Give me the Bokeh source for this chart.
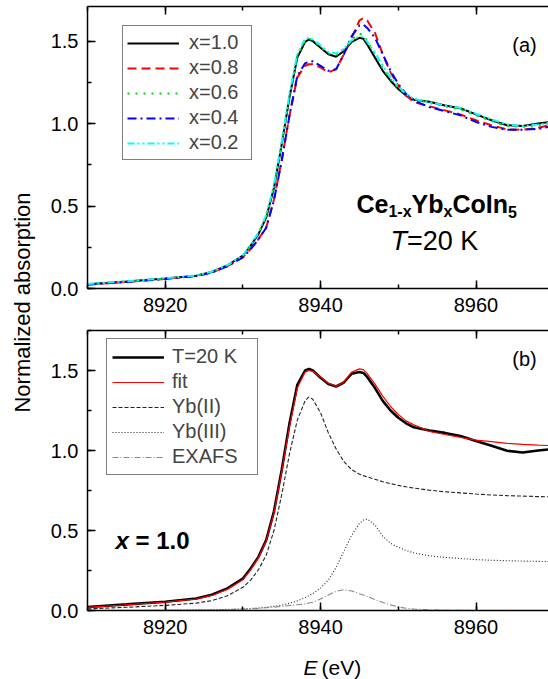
import numpy as np
from bokeh.plotting import figure
from bokeh.layouts import row, column
from bokeh.models import (Range1d, LinearAxis, SingleIntervalTicker, PrintfTickFormatter,
                          Legend, LegendItem, Label)
from bokeh.embed import file_html
from bokeh.resources import INLINE

# ---------------- data ----------------
energy = [8910, 8915, 8920, 8924, 8926, 8928, 8930, 8931, 8932, 8933, 8934, 8935, 8936, 8937,
          8938, 8938.5, 8939, 8940, 8941, 8942, 8943, 8944, 8945, 8945.5, 8946, 8947, 8948,
          8949, 8950, 8951, 8952, 8954, 8956, 8958, 8960, 8962, 8964, 8966, 8968, 8970]

x10 = [0.026, 0.042, 0.060, 0.078, 0.100, 0.140, 0.200, 0.260, 0.330, 0.430, 0.610, 0.875, 1.160, 1.400,
       1.495, 1.510, 1.500, 1.460, 1.420, 1.405, 1.440, 1.495, 1.520, 1.515, 1.480, 1.400, 1.320,
       1.260, 1.210, 1.170, 1.145, 1.133, 1.110, 1.093, 1.056, 1.020, 0.990, 0.986, 1.000, 1.012]
x08 = [0.024, 0.040, 0.058, 0.076, 0.097, 0.135, 0.190, 0.240, 0.300, 0.370, 0.540, 0.780, 1.050, 1.280,
       1.350, 1.360, 1.360, 1.340, 1.310, 1.330, 1.420, 1.520, 1.625, 1.640, 1.625, 1.550, 1.420,
       1.310, 1.230, 1.170, 1.130, 1.105, 1.080, 1.055, 1.020, 0.990, 0.965, 0.962, 0.975, 0.995]
x06 = [0.026, 0.042, 0.060, 0.078, 0.100, 0.140, 0.200, 0.262, 0.335, 0.440, 0.620, 0.885, 1.170, 1.410,
       1.505, 1.515, 1.505, 1.465, 1.425, 1.415, 1.450, 1.510, 1.545, 1.540, 1.500, 1.420, 1.335,
       1.270, 1.215, 1.175, 1.150, 1.125, 1.105, 1.085, 1.050, 1.015, 0.985, 0.980, 0.990, 1.005]
x04 = [0.024, 0.040, 0.058, 0.076, 0.097, 0.135, 0.188, 0.238, 0.298, 0.368, 0.535, 0.775, 1.050, 1.290,
       1.365, 1.375, 1.378, 1.350, 1.320, 1.330, 1.420, 1.530, 1.595, 1.600, 1.580, 1.520, 1.420,
       1.320, 1.240, 1.180, 1.140, 1.100, 1.075, 1.050, 1.010, 0.980, 0.962, 0.962, 0.968, 0.985]
x02 = [0.028, 0.044, 0.062, 0.080, 0.102, 0.142, 0.202, 0.265, 0.340, 0.445, 0.625, 0.890, 1.180, 1.420,
       1.515, 1.520, 1.510, 1.475, 1.435, 1.425, 1.455, 1.505, 1.530, 1.525, 1.495, 1.430, 1.350,
       1.280, 1.225, 1.180, 1.150, 1.130, 1.110, 1.095, 1.060, 1.025, 0.995, 0.985, 0.995, 1.008]

t20k = [0.022, 0.038, 0.055, 0.075, 0.098, 0.138, 0.200, 0.262, 0.335, 0.440, 0.620, 0.880, 1.170, 1.410,
        1.500, 1.510, 1.500, 1.455, 1.415, 1.400, 1.425, 1.480, 1.490, 1.485, 1.460, 1.390, 1.310,
        1.250, 1.205, 1.170, 1.145, 1.125, 1.110, 1.090, 1.060, 1.030, 0.998, 0.988, 1.000, 1.010]
fit = [0.020, 0.036, 0.052, 0.072, 0.094, 0.132, 0.192, 0.255, 0.330, 0.435, 0.610, 0.870, 1.150, 1.390,
       1.490, 1.500, 1.495, 1.460, 1.420, 1.400, 1.430, 1.490, 1.510, 1.505, 1.480, 1.415, 1.340,
       1.275, 1.225, 1.185, 1.160, 1.120, 1.100, 1.082, 1.065, 1.055, 1.045, 1.038, 1.033, 1.030]
yb2 = [0.010, 0.020, 0.032, 0.046, 0.062, 0.092, 0.145, 0.190, 0.255, 0.345, 0.500, 0.725, 0.980, 1.190,
       1.310, 1.335, 1.320, 1.235, 1.110, 1.010, 0.930, 0.880, 0.852, 0.843, 0.835, 0.820, 0.805,
       0.793, 0.782, 0.773, 0.765, 0.752, 0.742, 0.735, 0.728, 0.722, 0.718, 0.715, 0.712, 0.710]
yb3 = [0.000, 0.001, 0.002, 0.004, 0.005, 0.007, 0.010, 0.013, 0.016, 0.020, 0.026, 0.034, 0.045, 0.060,
       0.080, 0.092, 0.105, 0.140, 0.190, 0.270, 0.370, 0.470, 0.545, 0.565, 0.572, 0.535, 0.465,
       0.420, 0.395, 0.375, 0.360, 0.342, 0.332, 0.325, 0.318, 0.314, 0.311, 0.309, 0.307, 0.305]
exafs = [0.000, 0.000, 0.001, 0.002, 0.003, 0.005, 0.008, 0.010, 0.013, 0.017, 0.021, 0.026, 0.031, 0.036,
         0.042, 0.047, 0.052, 0.072, 0.097, 0.120, 0.130, 0.122, 0.105, 0.097, 0.088, 0.068, 0.050,
         0.035, 0.022, 0.014, 0.009, 0.004, 0.002, 0.001, 0.000, 0.000, 0.000, 0.000, 0.000, 0.000]

top_labels = ["x=1.0", "x=0.8", "x=0.6", "x=0.4", "x=0.2"]
bot_labels = ["T=20 K", "fit", "Yb(II)", "Yb(III)", "EXAFS"]

# ---------------- geometry ----------------
FONT = "Liberation Sans"
W_LABEL = 40
W_PLOT = 508
FRAME_L = 87            # page x of the frame's left edge
FRAME_R = 548
PX_PER_EV = 7.77
X0 = 8910.0
X1 = X0 + (FRAME_R - FRAME_L) / PX_PER_EV

TOP_T, TOP_B, TOP_YMAX = 6, 288, 1.71
BOT_T, BOT_B, BOT_YMAX = 330, 610, 1.75
H_TOP = TOP_B + 40                  # 328
H_BOT = 2 + (BOT_B - BOT_T) + 36    # 318
H_XLAB = 679 - H_TOP - H_BOT        # 33


def xd(px):
    return X0 + (px - FRAME_L) / PX_PER_EV


def yt(py):
    return TOP_YMAX * (TOP_B - py) / (TOP_B - TOP_T)


def yb(py):
    return BOT_YMAX * (BOT_B - py) / (BOT_B - BOT_T)


def style_axis(ax, labels=True):
    ax.axis_line_width = 1.5
    ax.axis_line_color = "black"
    ax.major_tick_in = 8
    ax.major_tick_out = 0
    ax.minor_tick_in = 4
    ax.minor_tick_out = 0
    ax.major_tick_line_width = 1.5
    ax.minor_tick_line_width = 1.5
    ax.major_tick_line_color = "black"
    ax.minor_tick_line_color = "black"
    ax.major_label_text_font = FONT
    if labels:
        ax.major_label_text_color = "black"
        ax.major_label_text_font_size = "20px"
    else:
        ax.major_label_text_color = None
        ax.major_label_text_font_size = "0px"
        ax.major_label_standoff = 0


def make_panel(height, ymax, border_top, border_bottom):
    p = figure(width=W_PLOT, height=height, x_range=Range1d(X0, X1), y_range=Range1d(0, ymax),
               toolbar_location=None, output_backend="svg", min_border_left=FRAME_L - W_LABEL,
               min_border_right=0, min_border_top=border_top, min_border_bottom=border_bottom,
               outline_line_color=None)
    p.xgrid.visible = False
    p.ygrid.visible = False
    p.xaxis.ticker = SingleIntervalTicker(interval=20, num_minor_ticks=2)
    p.yaxis.ticker = SingleIntervalTicker(interval=0.5, num_minor_ticks=2)
    p.yaxis.formatter = PrintfTickFormatter(format="%.1f")
    style_axis(p.xaxis[0])
    style_axis(p.yaxis[0])
    p.xaxis.major_label_standoff = 9
    p.yaxis.major_label_standoff = 9
    top = LinearAxis(ticker=SingleIntervalTicker(interval=20, num_minor_ticks=2))
    style_axis(top, labels=False)
    p.add_layout(top, "above")
    return p


def lab(p, x, y, text, size, style="normal", align="left", baseline="alphabetic", angle=0):
    p.add_layout(Label(x=x, y=y, text=text, text_font=FONT, text_font_size=size,
                       text_font_style=style, text_align=align, text_baseline=baseline,
                       text_color="black", angle=angle))


# ---------------- top panel ----------------
p1 = make_panel(H_TOP, TOP_YMAX, TOP_T, H_TOP - TOP_B)
r10 = p1.line(energy, x10, line_color="black", line_width=2)
r08 = p1.line(energy, x08, line_color="#ff0000", line_width=2, line_dash="9 5")
r06 = p1.line(energy, x06, line_color="#00dd00", line_width=2, line_dash="2 6")
r04 = p1.line(energy, x04, line_color="#0000ff", line_width=2, line_dash="9 4 2 4")
r02 = p1.line(energy, x02, line_color="#00ffff", line_width=2, line_dash="7 3 2 3 2 3")

leg1 = Legend(items=[LegendItem(label=t, renderers=[r]) for t, r in
                     zip(top_labels, [r10, r08, r06, r04, r02])],
              location=(122 - FRAME_L, TOP_B - 160), label_text_font=FONT,
              label_text_font_size="20px", glyph_width=52, glyph_height=20, label_height=25,
              label_standoff=10, label_width=58, padding=4, spacing=0, margin=0,
              border_line_color="black", border_line_width=1, background_fill_color="white")
p1.add_layout(leg1)

lab(p1, xd(524), yt(44), "(a)", "20px", align="center", baseline="middle")

# Ce1-xYbxCoIn5 built from pieces (bold, subscripts lowered)
main_px, sub_px = 25, 16
pieces = [("Ce", False, 1.278), ("1-x", True, 1.445), ("Yb", False, 1.278),
          ("x", True, 0.556), ("CoIn", False, 2.222), ("5", True, 0.556)]
cx = 356.0
for txt, is_sub, em in pieces:
    size = sub_px if is_sub else main_px
    lab(p1, xd(cx), yt(211 if is_sub else 203), txt, f"{size}px", style="bold")
    cx += em * size

tsz = 27
tx = 390.0
lab(p1, xd(tx), yt(240), "T", f"{tsz}px", style="italic")
lab(p1, xd(tx + 0.611 * tsz), yt(240), "=20 K", f"{tsz}px")

# ---------------- bottom panel ----------------
p2 = make_panel(H_BOT, BOT_YMAX, 2, H_BOT - 2 - (BOT_B - BOT_T))
q1 = p2.line(energy, t20k, line_color="black", line_width=2.6)
q2 = p2.line(energy, fit, line_color="#ff0000", line_width=1.2)
q3 = p2.line(energy, yb2, line_color="#222222", line_width=1.1, line_dash="4 2")
q4 = p2.line(energy, yb3, line_color="#222222", line_width=1.1, line_dash="1 2")
q5 = p2.line(energy, exafs, line_color="#888888", line_width=1.1, line_dash="6 2 1 2")

leg2 = Legend(items=[LegendItem(label=t, renderers=[r]) for t, r in
                     zip(bot_labels, [q1, q2, q3, q4, q5])],
              location=(106 - FRAME_L, BOT_B - 475), label_text_font=FONT,
              label_text_font_size="20px", glyph_width=52, glyph_height=20, label_height=25,
              label_standoff=8, label_width=80, padding=5, spacing=0, margin=0,
              border_line_color="black", border_line_width=1, background_fill_color="white")
p2.add_layout(leg2)

lab(p2, xd(524), yb(358), "(b)", "20px", align="center", baseline="middle")
xsz = 24
lab(p2, xd(115), yb(540), "x", f"{xsz}px", style="bold italic")
lab(p2, xd(115 + (0.556 + 0.278) * xsz), yb(540), "= 1.0", f"{xsz}px", style="bold")

# ---------------- x-axis title strip (mixed italic) ----------------
# strip coordinates: x = page pixels, y = pixels up from the strip's bottom edge
px_lab = figure(width=W_PLOT, height=H_XLAB, x_range=Range1d(W_LABEL, W_LABEL + W_PLOT),
                y_range=Range1d(0, H_XLAB), toolbar_location=None, output_backend="svg",
                min_border=0, x_axis_type=None, y_axis_type=None, outline_line_color=None)
esz = 21
ey = 12
lab(px_lab, 278, ey, "E", f"{esz}px", style="italic", baseline="middle")
lab(px_lab, 278 + (0.667 + 0.278) * esz, ey, "(eV)", f"{esz}px", baseline="middle")

# ---------------- shared y label ----------------
pl = figure(width=W_LABEL, height=679, x_range=Range1d(0, W_LABEL), y_range=Range1d(0, 679),
            toolbar_location=None, output_backend="svg", min_border=0,
            x_axis_type=None, y_axis_type=None, outline_line_color=None)
lab(pl, 22, 679 - 302, "Normalized absorption", "22px", align="center", baseline="middle",
    angle=np.pi / 2)

layout = row(pl, column(p1, p2, px_lab))
open("out.html", "w").write(file_html(layout, INLINE))
